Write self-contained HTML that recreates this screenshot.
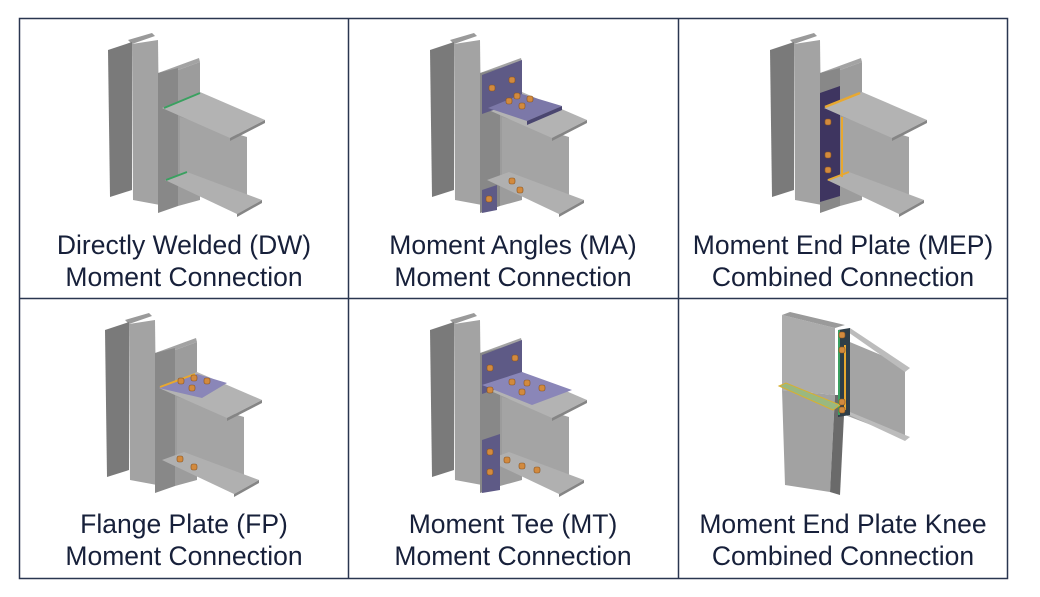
<!DOCTYPE html>
<html><head><meta charset="utf-8"><style>
html,body{margin:0;padding:0;background:#fff;}
svg{display:block}
text{font-family:"Liberation Sans",sans-serif;font-size:26.5px;fill:#17203a;text-anchor:middle}
</style></head><body>
<svg width="1040" height="597" viewBox="0 0 1040 597" xmlns="http://www.w3.org/2000/svg">
<defs>
<g id="col">
  <polygon points="128,40 152,33 155,36 132,44" fill="#9a9a9a"/>
  <polygon points="108,50 132,42 132,190 110,197" fill="#7a7a7a"/>
  <polygon points="132,44 158,40 160,205 133,200" fill="#a3a3a3"/>
  <polygon points="158,73 199,58 200,62 178,70" fill="#a3a3a3"/>
  <polygon points="178,70 200,62 200,200 178,206" fill="#9c9c9c"/>
  <polygon points="158,73 178,68 178,206 158,213" fill="#888888"/>
</g>
<g id="beam">
  <polygon points="180,117 247,137 247,197 180,177" fill="#a4a4a4"/>
  <polygon points="165,180 187,172 262,200 237,214" fill="#b0b0b0"/>
  <polygon points="237,214 262,200 262,203 237,217" fill="#858585"/>
  <polygon points="162,108 200,92 265,120 230,138" fill="#b3b3b3"/>
  <polygon points="230,138 265,120 265,123 230,141" fill="#858585"/>
</g>
<g id="bolt"><rect x="-3" y="-3" width="6" height="6" rx="2" fill="#d28a3e" stroke="#8a5420" stroke-width="0.6"/></g>
</defs>
<rect x="19.5" y="18.5" width="988" height="560" fill="none" stroke="#2a3650" stroke-width="1.5"/>
<line x1="348.5" y1="18" x2="348.5" y2="578" stroke="#2a3650" stroke-width="1.5"/>
<line x1="678.5" y1="18" x2="678.5" y2="578" stroke="#2a3650" stroke-width="1.5"/>
<line x1="19" y1="298.5" x2="1007" y2="298.5" stroke="#2a3650" stroke-width="1.5"/>

<use href="#col"/><use href="#beam"/>
<line x1="164" y1="108" x2="200" y2="93" stroke="#3aa060" stroke-width="2"/>
<line x1="166" y1="180" x2="187" y2="172" stroke="#3aa060" stroke-width="2"/>

<g transform="translate(322,0)">
<use href="#col"/><use href="#beam"/>
<polygon points="160,75 200,60 200,100 160,114" fill="#5e5a86"/>
<polygon points="166,108 200,94 240,106 205,121" fill="#7c78a8"/>
<polygon points="205,121 240,106 240,110 205,125" fill="#4a4670"/>
<use href="#bolt" x="170" y="88"/><use href="#bolt" x="190" y="80"/>
<use href="#bolt" x="195" y="96"/><use href="#bolt" x="208" y="99"/><use href="#bolt" x="187" y="101"/><use href="#bolt" x="200" y="106"/>
<polygon points="160,190 175,185 175,210 160,213" fill="#5e5a86"/>
<use href="#bolt" x="167" y="199"/>
<use href="#bolt" x="190" y="181"/><use href="#bolt" x="198" y="190"/>
</g>

<g transform="translate(662,0)">
<use href="#col"/>
<polygon points="158,93 178,86 178,196 158,202" fill="#3e3560"/>
<use href="#beam"/>
<line x1="163" y1="107" x2="198" y2="93" stroke="#e8a830" stroke-width="2.5"/>
<line x1="180" y1="117" x2="180" y2="177" stroke="#e8a830" stroke-width="2"/>
<line x1="166" y1="180" x2="187" y2="172" stroke="#e8a830" stroke-width="2"/>
<use href="#bolt" x="166" y="122"/><use href="#bolt" x="166" y="155"/><use href="#bolt" x="166" y="170"/>
</g>

<g transform="translate(-3,280)">
<use href="#col"/><use href="#beam"/>
<polygon points="162,108 200,94 230,103 205,118" fill="#8a86b8"/>
<line x1="163" y1="107" x2="198" y2="94" stroke="#e8a830" stroke-width="2"/>
<use href="#bolt" x="184" y="101"/><use href="#bolt" x="197" y="98"/><use href="#bolt" x="210" y="101"/><use href="#bolt" x="195" y="108"/>
<use href="#bolt" x="183" y="179"/><use href="#bolt" x="197" y="187"/>
</g>

<g transform="translate(322,280)">
<use href="#col"/><use href="#beam"/>
<polygon points="160,75 200,60 200,100 160,114" fill="#5e5a86"/>
<polygon points="160,105 200,92 250,110 210,125" fill="#8a86b8"/>
<use href="#bolt" x="168" y="88"/><use href="#bolt" x="193" y="78"/><use href="#bolt" x="168" y="110"/>
<use href="#bolt" x="190" y="102"/><use href="#bolt" x="205" y="103"/><use href="#bolt" x="220" y="108"/><use href="#bolt" x="200" y="112"/>
<polygon points="160,160 178,154 178,210 160,213" fill="#5e5a86"/>
<use href="#bolt" x="168" y="172"/><use href="#bolt" x="168" y="192"/>
<use href="#bolt" x="185" y="180"/><use href="#bolt" x="200" y="186"/><use href="#bolt" x="215" y="190"/>
</g>

<polygon points="782,315 835,328 835,395 782,390" fill="#acacac"/>
<polygon points="782,315 790,312 845,325 835,328" fill="#9a9a9a"/>
<polygon points="782,390 835,395 830,492 785,485" fill="#a2a2a2"/>
<polygon points="835,395 845,395 840,495 830,492" fill="#6a6a6a"/>
<polygon points="845,340 905,365 905,438 845,415" fill="#a4a4a4"/>
<polygon points="845,330 850,328 910,368 905,372" fill="#bcbcbc"/>
<polygon points="845,413 850,412 910,437 905,441" fill="#bcbcbc"/>
<polygon points="838,330 850,328 850,415 838,417" fill="#2f3e48"/>
<line x1="839" y1="330" x2="839" y2="415" stroke="#3aa060" stroke-width="2"/>
<line x1="845" y1="345" x2="845" y2="410" stroke="#e8a830" stroke-width="2"/>
<polygon points="779,386 786,383 840,405 833,410" fill="#9ab880" stroke="#d8b030" stroke-width="1"/>
<use href="#bolt" x="842" y="335"/><use href="#bolt" x="842" y="350"/><use href="#bolt" x="842" y="402"/><use href="#bolt" x="842" y="410"/>

<text x="184" y="254">Directly Welded (DW)</text>
<text x="184" y="286">Moment Connection</text>
<text x="513" y="254">Moment Angles (MA)</text>
<text x="513" y="286">Moment Connection</text>
<text x="843" y="254">Moment End Plate (MEP)</text>
<text x="843" y="286">Combined Connection</text>
<text x="184" y="533">Flange Plate (FP)</text>
<text x="184" y="565">Moment Connection</text>
<text x="513" y="533">Moment Tee (MT)</text>
<text x="513" y="565">Moment Connection</text>
<text x="843" y="533">Moment End Plate Knee</text>
<text x="843" y="565">Combined Connection</text>
</svg>
</body></html>
